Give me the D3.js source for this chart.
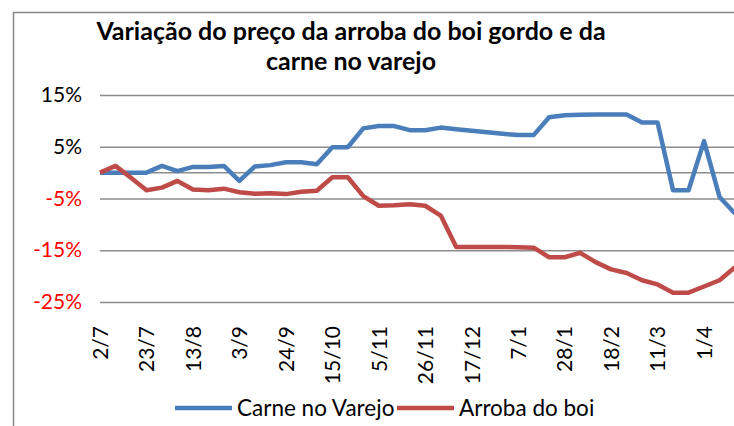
<!DOCTYPE html>
<html>
<head>
<meta charset="utf-8">
<script src="https://cdnjs.cloudflare.com/ajax/libs/d3/7.8.5/d3.min.js"></script>
<style>
  html, body { margin: 0; padding: 0; background: #fff; }
  svg text { font-family: Lato, "Open Sans", sans-serif; fill: #000; }
</style>
</head>
<body>
<div id="chart"></div>
<script>
;(function (window, document, undefined) {

  'use strict';

  // semanas (categorias do eixo x)
  var semanas = ['2/7', '9/7', '16/7', '23/7', '30/7', '6/8', '13/8', '20/8', '27/8', '3/9',
                 '10/9', '17/9', '24/9', '1/10', '8/10', '15/10', '22/10', '29/10', '5/11', '12/11',
                 '19/11', '26/11', '3/12', '10/12', '17/12', '24/12', '31/12', '7/1', '14/1', '21/1',
                 '28/1', '4/2', '11/2', '18/2', '25/2', '4/3', '11/3', '18/3', '25/3', '1/4',
                 '8/4', '15/4'];

  var rotulosX = ['2/7', '23/7', '13/8', '3/9', '24/9', '15/10', '5/11', '26/11', '17/12',
                  '7/1', '28/1', '18/2', '11/3', '1/4'];

  var carneVarejo = [0, 0, 0, 0, 1.3, 0.3, 1.1, 1.1, 1.3, -1.6,
                     1.2, 1.45, 2.0, 2.0, 1.6, 4.9, 4.9, 8.55, 9.0, 9.0,
                     8.2, 8.2, 8.7, 8.4, 8.1, 7.8, 7.5, 7.25, 7.25, 10.7,
                     11.1, 11.2, 11.25, 11.25, 11.25, 9.7, 9.7, -3.4, -3.4, 6.1,
                     -4.7, -7.9];

  var arrobaBoi = [0, 1.3, -1.0, -3.4, -2.9, -1.6, -3.25, -3.4, -3.1, -3.8,
                   -4.1, -4.0, -4.15, -3.7, -3.5, -0.9, -0.9, -4.55, -6.4, -6.3,
                   -6.1, -6.4, -8.3, -14.35, -14.35, -14.35, -14.35, -14.4, -14.5, -16.35,
                   -16.35, -15.5, -17.3, -18.7, -19.4, -20.8, -21.6, -23.2, -23.2, -22.0,
                   -20.8, -18.3];

  var yTicks = [15, 5, -5, -15, -25];

  var series = [
    { nome: 'Carne no Varejo', cor: '#4a7ebb', valores: carneVarejo },
    { nome: 'Arroba do boi', cor: '#be4b48', valores: arrobaBoi }
  ];

  var width = 734, height = 426;

  var svg = d3.select('#chart').append('svg')
              .attr('width', width)
              .attr('height', height);

  svg.append('rect')
    .attr('width', width)
    .attr('height', height)
    .attr('fill', '#fff');

  // borda da area do grafico (cortada a direita e embaixo)
  svg.append('rect')
    .attr('x', 13.5)
    .attr('y', 12.5)
    .attr('width', 900)
    .attr('height', 600)
    .attr('fill', 'none')
    .attr('stroke', '#898989')
    .attr('stroke-width', 1.5);

  var x = d3.scalePoint()
            .domain(semanas)
            .range([100, 735]);

  var y = d3.scaleLinear()
            .domain([-25, 15])
            .range([302, 95]);

  // titulo
  var titulo = svg.append('text')
    .attr('text-anchor', 'middle')
    .style('font-weight', 'bold')
    .style('font-size', '25px');
  titulo.append('tspan').attr('x', 351).attr('y', 40)
    .text('Variação do preço da arroba do boi gordo e da');
  titulo.append('tspan').attr('x', 351).attr('y', 70)
    .text('carne no varejo');

  // linhas de grade
  svg.append('g')
    .attr('transform', 'translate(100,0)')
    .call(d3.axisLeft(y).tickValues(yTicks).tickSize(-700).tickFormat(''))
    .call(function (g) {
      g.select('.domain').remove();
      g.selectAll('line').attr('stroke', '#8c8c8c').attr('stroke-width', 1.5);
    });

  // eixo das categorias no zero
  svg.append('line')
    .attr('x1', 100).attr('x2', 800)
    .attr('y1', y(0)).attr('y2', y(0))
    .attr('stroke', '#8c8c8c')
    .attr('stroke-width', 1.5);

  // rotulos eixo y
  svg.append('g')
    .attr('transform', 'translate(100,0)')
    .call(d3.axisLeft(y).tickValues(yTicks).tickSize(0).tickPadding(18)
            .tickFormat(function (d) { return d + '%'; }))
    .call(function (g) {
      g.select('.domain').remove();
      g.selectAll('text')
        .style('font-size', '21px')
        .style('font-family', 'Lato, sans-serif')
        .style('fill', function (d) { return d < 0 ? '#ff0000' : '#000'; });
    });

  // rotulos eixo x
  svg.append('g')
    .attr('transform', 'translate(0,302)')
    .call(d3.axisBottom(x).tickValues(rotulosX).tickSize(0))
    .call(function (g) {
      g.select('.domain').remove();
      g.selectAll('text')
        .attr('transform', 'rotate(-90)')
        .attr('x', -24)
        .attr('y', 0)
        .attr('dy', '0.35em')
        .style('text-anchor', 'end')
        .style('font-size', '21px')
        .style('font-family', 'Lato, sans-serif');
    });

  var linha = d3.line()
                .x(function (d, i) { return x(semanas[i]); })
                .y(function (d) { return y(d); });

  svg.append('g')
    .selectAll('path')
    .data(series)
    .enter().append('path')
      .attr('d', function (s) { return linha(s.valores); })
      .attr('fill', 'none')
      .attr('stroke', function (s) { return s.cor; })
      .attr('stroke-width', 4.5)
      .attr('stroke-linejoin', 'round');

  // legenda
  var legendaX = [175, 397];
  var legenda = svg.append('g')
    .selectAll('g')
    .data(series)
    .enter().append('g')
      .attr('transform', function (s, i) { return 'translate(' + legendaX[i] + ',408)'; });

  legenda.append('line')
    .attr('x1', 0).attr('x2', 57)
    .attr('y1', 0).attr('y2', 0)
    .attr('stroke', function (s) { return s.cor; })
    .attr('stroke-width', 4.5);

  legenda.append('text')
    .attr('x', 62)
    .attr('dy', '0.35em')
    .style('font-size', '22.5px')
    .text(function (s) { return s.nome; });

})(window, document);
</script>
</body>
</html>
